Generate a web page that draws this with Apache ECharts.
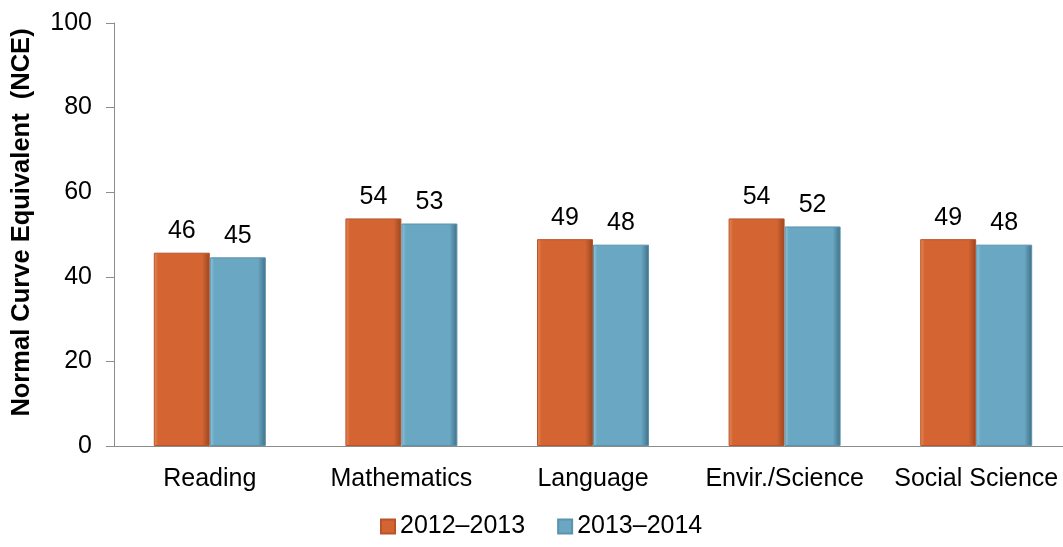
<!DOCTYPE html>
<html>
<head>
<meta charset="utf-8">
<script src="https://cdn.jsdelivr.net/npm/echarts@6/dist/echarts.min.js"></script>
<style>
html,body{margin:0;padding:0;background:#fff;}
#chart{width:1063px;height:547px;}
</style>
</head>
<body>
<div id="chart"></div>
<script>
const categories = ['Reading', 'Mathematics', 'Language', 'Envir./Science', 'Social Science'];
const seriesNames = ['2012\u20132013', '2013\u20132014'];
const values2012 = [45.7, 53.8, 48.9, 53.8, 48.9];
const values2013 = [44.6, 52.6, 47.6, 51.9, 47.6];
const yTicks = [0, 20, 40, 60, 80, 100];

const FONT = '"Liberation Sans", Arial, sans-serif';
const FS = 25;

function bevel(main, light, dark) {
  return new echarts.graphic.LinearGradient(0, 0, 1, 0, [
    {offset: 0, color: light},
    {offset: 0.08, color: main},
    {offset: 0.86, color: main},
    {offset: 1, color: dark}
  ]);
}

const chart = echarts.init(document.getElementById('chart'), null, {renderer: 'canvas'});
chart.setOption({
  animation: false,
  backgroundColor: '#ffffff',
  textStyle: {fontFamily: FONT},
  grid: {left: 114, top: 23, bottom: 101, width: 958, containLabel: false, outerBoundsMode: 'none'},
  legend: {
    left: 375, top: 509,
    itemWidth: 14, itemHeight: 14, itemGap: 32,
    icon: 'rect',
    textStyle: {fontFamily: FONT, fontSize: FS, color: '#000'},
    data: seriesNames
  },
  xAxis: {
    type: 'category',
    data: categories,
    axisLine: {lineStyle: {color: '#8c8c8c', width: 1}},
    axisTick: {show: false},
    axisLabel: {fontFamily: FONT, fontSize: FS, color: '#000', margin: 21, interval: 0}
  },
  yAxis: {
    type: 'value',
    min: yTicks[0], max: yTicks[yTicks.length - 1], interval: 20,
    name: 'Normal Curve Equivalent  (NCE)',
    nameLocation: 'middle',
    nameGap: 79,
    nameTextStyle: {fontFamily: FONT, fontSize: 25.5, fontWeight: 'bold', color: '#000', padding: [0, 0, 0, 24]},
    axisLine: {show: true, lineStyle: {color: '#8c8c8c', width: 1}},
    axisTick: {show: true, length: 8, lineStyle: {color: '#8c8c8c'}},
    splitLine: {show: false},
    axisLabel: {fontFamily: FONT, fontSize: FS, color: '#000', margin: 22}
  },
  series: [
    {
      name: seriesNames[0], type: 'bar', data: values2012,
      barWidth: 56, barGap: '0%',
      itemStyle: {color: bevel('#d46532', '#e88a5a', '#9a4520'), borderColor: '#b8532a', borderWidth: 1},
      label: {show: true, position: 'top', distance: 9, fontFamily: FONT, fontSize: FS, color: '#000',
        formatter: p => Math.round(p.value)}
    },
    {
      name: seriesNames[1], type: 'bar', data: values2013,
      barWidth: 56,
      itemStyle: {color: bevel('#6aa7c3', '#92c6dc', '#3f6f85'), borderColor: '#5a93ad', borderWidth: 1},
      label: {show: true, position: 'top', distance: 9, fontFamily: FONT, fontSize: FS, color: '#000',
        formatter: p => Math.round(p.value)}
    }
  ]
});
</script>
</body>
</html>
